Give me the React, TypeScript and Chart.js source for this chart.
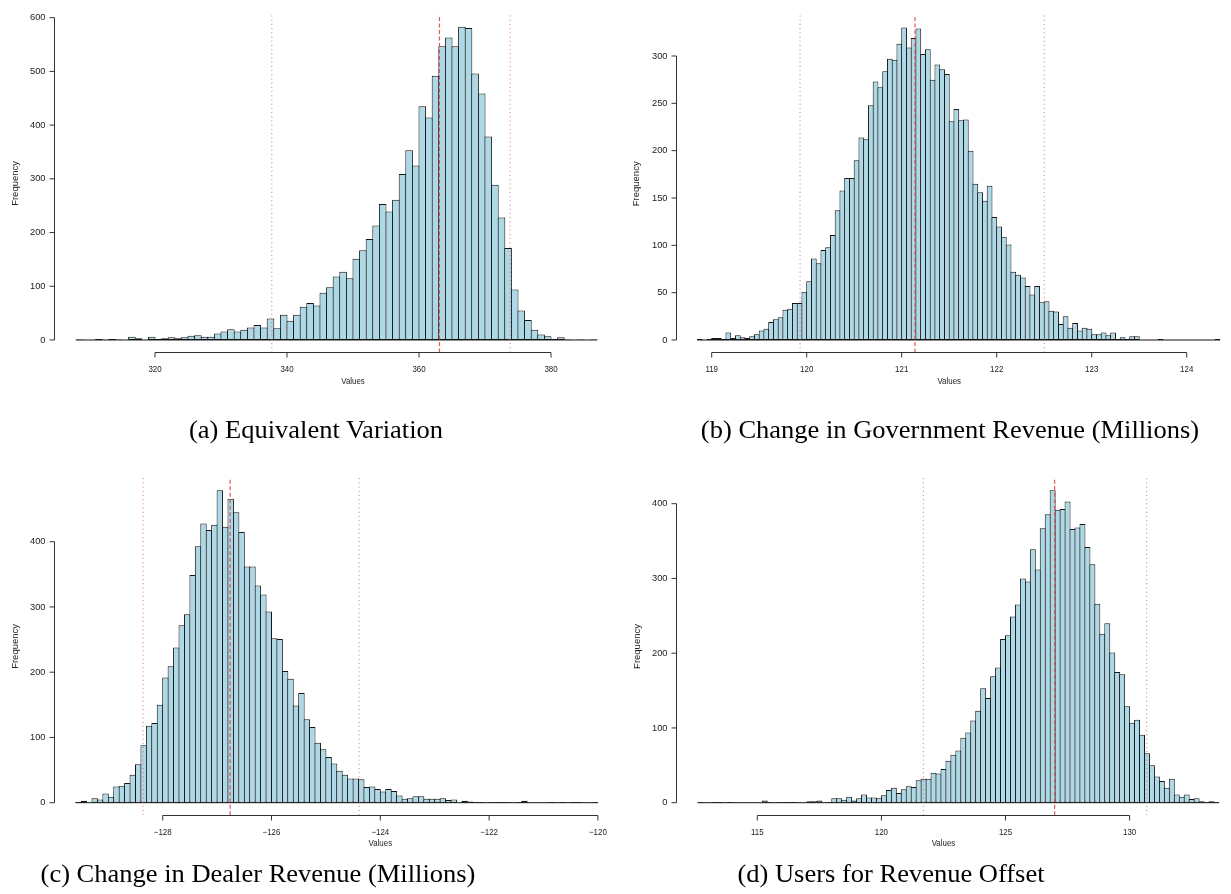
import React, { useEffect, useRef } from 'react';
import { Chart, registerables } from 'chart.js';

Chart.register(...registerables);

// ---------------- Data ----------------
// (a) Equivalent Variation
const binStartA = 308;
const binWidthA = 1;
const countsA = [
  1, 0, 0, 2, 0, 2, 1, 0, 6, 3,
  0, 6, 2, 3, 5, 3, 5, 8, 9, 6,
  6, 12, 16, 20, 16, 19, 23, 28, 23, 40,
  22, 47, 36, 47, 62, 69, 64, 88, 98, 118,
  127, 115, 151, 167, 188, 213, 253, 239, 261, 309,
  353, 325, 435, 414, 492, 547, 563, 547, 583, 581,
  496, 459, 379, 289, 228, 171, 94, 55, 37, 19,
  10, 7, 2, 5, 1, 0, 1, 0, 1,
];
const xTicksA = [320, 340, 360, 380];
const yTicksA = [0, 100, 200, 300, 400, 500, 600];
const meanA = 363.1;
const boundsA = [337.7, 373.8];

// (b) Change in Government Revenue (Millions)
const binStartB = 118.85;
const binWidthB = 0.05;
const countsB = [
  1, 0, 1, 2, 2, 1, 8, 2, 5, 3,
  2, 4, 6, 10, 12, 19, 22, 24, 32, 33,
  39, 39, 51, 62, 86, 81, 95, 98, 111, 137,
  158, 171, 171, 190, 214, 212, 248, 273, 267, 284,
  297, 296, 313, 330, 309, 319, 329, 302, 307, 275,
  291, 286, 281, 231, 244, 232, 233, 200, 165, 156,
  147, 163, 130, 120, 109, 101, 72, 69, 66, 57,
  48, 57, 40, 41, 31, 30, 17, 25, 13, 18,
  10, 13, 12, 6, 6, 8, 5, 8, 1, 3,
  1, 4, 4, 0, 0, 0, 0, 1, 0, 0,
  0, 0, 0, 0, 0, 0, 0, 0, 0, 1,
];
const xTicksB = [119, 120, 121, 122, 123, 124];
const yTicksB = [0, 50, 100, 150, 200, 250, 300];
const meanB = 121.14;
const boundsB = [119.93, 122.5];

// (c) Change in Dealer Revenue (Millions)
const binStartC = -129.6;
const binWidthC = 0.1;
const countsC = [
  1, 3, 0, 7, 5, 14, 9, 25, 26, 30,
  43, 59, 88, 118, 122, 150, 192, 209, 238, 272,
  289, 349, 393, 428, 418, 426, 479, 423, 466, 445,
  415, 362, 362, 333, 319, 293, 252, 251, 202, 190,
  149, 168, 128, 116, 92, 82, 70, 60, 49, 43,
  37, 37, 36, 24, 25, 21, 17, 21, 18, 11,
  6, 7, 10, 10, 6, 6, 6, 7, 4, 5,
  0, 3, 2, 1, 1, 0, 1, 1, 1, 1,
  0, 1, 3, 0, 0, 0, 0, 1, 0, 1,
  0, 1, 1, 0, 0, 1,
];
const xTicksC = [-128, -126, -124, -122, -120];
const yTicksC = [0, 100, 200, 300, 400];
const meanC = -126.76;
const boundsC = [-128.36, -124.39];

// (d) Users for Revenue Offset
const binStartD = 112.6;
const binWidthD = 0.2;
const countsD = [
  1, 0, 0, 1, 1, 0, 1, 0, 0, 0,
  0, 0, 0, 3, 1, 0, 1, 1, 1, 1,
  0, 0, 2, 2, 3, 0, 1, 6, 6, 4,
  8, 3, 6, 11, 7, 7, 6, 10, 17, 20,
  13, 18, 22, 21, 30, 32, 32, 40, 39, 45,
  56, 64, 70, 87, 94, 110, 123, 153, 140, 169,
  181, 219, 224, 249, 265, 300, 296, 339, 312, 367,
  386, 418, 392, 393, 403, 366, 368, 373, 342, 319,
  266, 226, 240, 201, 175, 172, 129, 107, 111, 91,
  66, 50, 35, 29, 20, 32, 11, 8, 11, 5,
  6, 2, 1, 2, 1,
];
const xTicksD = [115, 120, 125, 130];
const yTicksD = [0, 100, 200, 300, 400];
const meanD = 126.98;
const boundsD = [121.69, 130.69];

const captions = [
  '(a) Equivalent Variation',
  '(b) Change in Government Revenue (Millions)',
  '(c) Change in Dealer Revenue (Millions)',
  '(d) Users for Revenue Offset',
];

// ---------------- Styles ----------------
const FILL = '#ADD8E6';
const BAR_BORDER = '#151515';
const AXIS_COLOR = '#333333';
const TEXT_COLOR = '#222222';
const MEAN_COLOR = 'rgba(222, 70, 70, 0.9)';
const BOUND_COLOR = 'rgba(225, 80, 80, 0.85)';

type Spec = {
  counts: number[];
  binStart: number;
  binWidth: number;
  xTicks: number[];
  yTicks: number[];
  mean: number;
  bounds: number[];
  canvas: { left: number; top: number; width: number; height: number };
  padding: { left: number; right: number; top: number; bottom: number };
  xRange: [number, number];
  yRange: [number, number];
  barPct: number;
};

const specs: Spec[] = [
  {
    counts: countsA, binStart: binStartA, binWidth: binWidthA,
    xTicks: xTicksA, yTicks: yTicksA, mean: meanA, bounds: boundsA,
    canvas: { left: 0, top: 0, width: 620, height: 460 },
    padding: { left: 54.94, right: 1.94, top: 14.3, bottom: 107.5 },
    xRange: [304.84, 390.16], yRange: [-23.32, 606.32], barPct: 1.152,
  },
  {
    counts: countsB, binStart: binStartB, binWidth: binWidthB,
    xTicks: xTicksB, yTicks: yTicksB, mean: meanB, bounds: boundsB,
    canvas: { left: 620, top: 0, width: 611, height: 460 },
    padding: { left: 56.55, right: 0, top: 15.1, bottom: 107.5 },
    xRange: [118.63, 124.466], yRange: [-13.2, 343.2], barPct: 1.21,
  },
  {
    counts: countsC, binStart: binStartC, binWidth: binWidthC,
    xTicks: xTicksC, yTicks: yTicksC, mean: meanC, bounds: boundsC,
    canvas: { left: 0, top: 460, width: 620, height: 434 },
    padding: { left: 54.77, right: 1.2, top: 17.65, bottom: 78.8 },
    xRange: [-129.984, -119.616], yRange: [-19.16, 498.16], barPct: 1.184,
  },
  {
    counts: countsD, binStart: binStartD, binWidth: binWidthD,
    xTicks: xTicksD, yTicks: yTicksD, mean: meanD, bounds: boundsD,
    canvas: { left: 620, top: 460, width: 611, height: 434 },
    padding: { left: 56.9, right: 0, top: 17.75, bottom: 78.8 },
    xRange: [111.76, 134.085], yRange: [-16.72, 434.72], barPct: 1.2,
  },
];

const captionLayout = [
  { center: 316, top: 417 },
  { center: 950, top: 417 },
  { center: 258, top: 861 },
  { center: 891, top: 861 },
];

function fmt(v: number): string {
  return v < 0 ? '\u2212' + String(Math.abs(v)) : String(v);
}

function drawScaledText(ctx: CanvasRenderingContext2D, text: string, x: number, y: number, sx: number) {
  ctx.save();
  ctx.translate(x, y);
  ctx.scale(sx, 1);
  ctx.fillText(text, 0, 0);
  ctx.restore();
}

function makeAxesPlugin(spec: Spec) {
  return {
    id: 'rStyleAxes',
    afterDraw(chart: any) {
      const ctx: CanvasRenderingContext2D = chart.ctx;
      const a = chart.chartArea;
      const xs = chart.scales.x;
      const ys = chart.scales.y;
      ctx.save();
      ctx.strokeStyle = AXIS_COLOR;
      ctx.lineWidth = 1;
      ctx.setLineDash([]);

      // x axis
      const yb = Math.floor(a.bottom) + 0.5;
      const xFirst = xs.getPixelForValue(spec.xTicks[0]);
      const xLast = xs.getPixelForValue(spec.xTicks[spec.xTicks.length - 1]);
      ctx.beginPath();
      ctx.moveTo(xFirst, yb);
      ctx.lineTo(xLast, yb);
      spec.xTicks.forEach((v) => {
        const px = xs.getPixelForValue(v);
        ctx.moveTo(px, yb);
        ctx.lineTo(px, yb + 5);
      });
      ctx.stroke();

      // y axis
      const xl = Math.floor(a.left) + 0.5;
      const yFirst = ys.getPixelForValue(spec.yTicks[0]);
      const yLast = ys.getPixelForValue(spec.yTicks[spec.yTicks.length - 1]);
      ctx.beginPath();
      ctx.moveTo(xl, yFirst);
      ctx.lineTo(xl, yLast);
      spec.yTicks.forEach((v) => {
        const py = ys.getPixelForValue(v);
        ctx.moveTo(xl, py);
        ctx.lineTo(xl - 5, py);
      });
      ctx.stroke();

      // tick labels
      ctx.fillStyle = TEXT_COLOR;
      ctx.font = '9px "Liberation Sans", Arial, sans-serif';
      ctx.textAlign = 'center';
      ctx.textBaseline = 'middle';
      spec.xTicks.forEach((v) => {
        drawScaledText(ctx, fmt(v), xs.getPixelForValue(v), a.bottom + 17, 0.88);
      });
      const midX = xs.getPixelForValue((spec.xTicks[0] + spec.xTicks[spec.xTicks.length - 1]) / 2);
      drawScaledText(ctx, 'Values', midX, a.bottom + 28.7, 0.88);

      ctx.font = '9.3px "Liberation Sans", Arial, sans-serif';
      ctx.textAlign = 'right';
      spec.yTicks.forEach((v) => {
        ctx.fillText(fmt(v), xl - 9, ys.getPixelForValue(v));
      });

      // y label
      ctx.save();
      ctx.translate(a.left - 39.5, (a.top + a.bottom) / 2);
      ctx.rotate(-Math.PI / 2);
      ctx.scale(1, 0.88);
      ctx.textAlign = 'center';
      ctx.textBaseline = 'middle';
      ctx.font = '9.5px "Liberation Sans", Arial, sans-serif';
      ctx.fillText('Frequency', 0, 0);
      ctx.restore();

      ctx.restore();
    },
  };
}

function HistPanel({ spec }: { spec: Spec }) {
  const ref = useRef<HTMLCanvasElement>(null);
  useEffect(() => {
    const canvas = ref.current;
    if (!canvas) return;
    const { counts, binStart, binWidth } = spec;
    const [yMin, yMax] = spec.yRange;
    const bars = counts.map((c, i) => ({ x: binStart + binWidth * (i + 0.5), y: c }));
    const lineBase = { type: 'line', pointRadius: 0, fill: false, tension: 0 };
    const datasets: any[] = [
      {
        ...lineBase,
        data: [{ x: spec.mean, y: yMin }, { x: spec.mean, y: yMax }],
        borderColor: MEAN_COLOR,
        borderWidth: 1.2,
        borderDash: [4, 2.5],
        order: 0,
      },
      ...spec.bounds.map((v) => ({
        ...lineBase,
        data: [{ x: v, y: yMin }, { x: v, y: yMax }],
        borderColor: BOUND_COLOR,
        borderWidth: 1,
        borderDash: [1, 3.2],
        order: 0,
      })),
      {
        ...lineBase,
        data: [{ x: binStart, y: 0 }, { x: binStart + binWidth * counts.length, y: 0 }],
        borderColor: BAR_BORDER,
        borderWidth: 1,
        order: 1,
      },
      {
        type: 'bar',
        data: bars,
        backgroundColor: FILL,
        borderColor: BAR_BORDER,
        borderWidth: 1,
        borderSkipped: false,
        barPercentage: spec.barPct,
        categoryPercentage: 1,
        inflateAmount: 0,
        order: 2,
      },
    ];
    const chart = new Chart(canvas, {
      type: 'bar',
      data: { datasets },
      options: {
        responsive: false,
        animation: false,
        devicePixelRatio: 1,
        events: [],
        layout: { padding: spec.padding },
        plugins: {
          legend: { display: false },
          tooltip: { enabled: false },
          title: { display: false },
        },
        scales: {
          x: {
            type: 'linear',
            min: spec.xRange[0],
            max: spec.xRange[1],
            offset: false,
            display: false,
            afterBuildTicks: (ax: any) => {
              ax.ticks = spec.xTicks.map((v) => ({ value: v }));
            },
          },
          y: {
            type: 'linear',
            min: yMin,
            max: yMax,
            display: false,
            afterBuildTicks: (ax: any) => {
              ax.ticks = spec.yTicks.map((v) => ({ value: v }));
            },
          },
        },
      } as any,
      plugins: [makeAxesPlugin(spec)],
    } as any);
    return () => chart.destroy();
  }, [spec]);

  return (
    <canvas
      ref={ref}
      width={spec.canvas.width}
      height={spec.canvas.height}
      style={{
        position: 'absolute',
        left: spec.canvas.left,
        top: spec.canvas.top,
        width: spec.canvas.width,
        height: spec.canvas.height,
      }}
    />
  );
}

export default function App() {
  return (
    <div
      style={{
        position: 'fixed',
        left: 0,
        top: 0,
        width: 1231,
        height: 894,
        overflow: 'hidden',
        background: '#ffffff',
      }}
    >
      {specs.map((s, i) => (
        <HistPanel key={i} spec={s} />
      ))}
      {captions.map((c, i) => (
        <div
          key={'cap' + i}
          style={{
            position: 'absolute',
            left: captionLayout[i].center - 350,
            width: 700,
            top: captionLayout[i].top,
            textAlign: 'center',
            fontFamily: '"Liberation Serif", "Times New Roman", serif',
            fontSize: 25,
            lineHeight: '25px',
            color: '#000',
            whiteSpace: 'nowrap',
            transform: 'scaleX(1.06)',
            transformOrigin: 'center',
          }}
        >
          {c}
        </div>
      ))}
    </div>
  );
}
